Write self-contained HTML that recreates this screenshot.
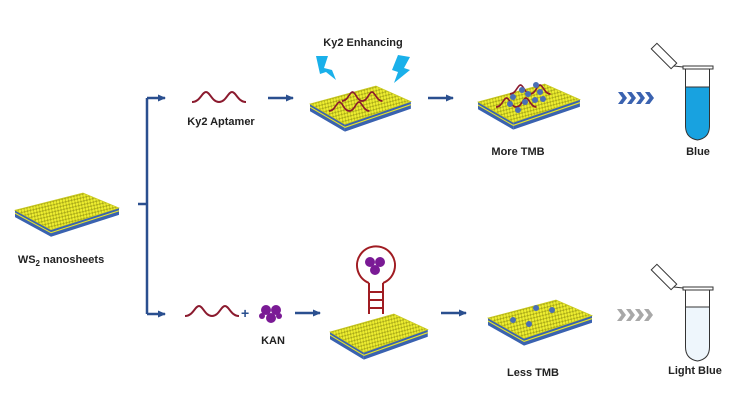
<!DOCTYPE html>
<html><head><meta charset="utf-8"><style>
body{margin:0;background:#fff}
svg{display:block}
text{font-family:"Liberation Sans",sans-serif;font-weight:bold;font-size:11px;fill:#222}
</style></head><body>
<svg width="734" height="412" viewBox="0 0 734 412" xmlns="http://www.w3.org/2000/svg">
<defs>
<pattern id="hatch" width="3" height="3" patternUnits="userSpaceOnUse" patternTransform="rotate(-12)">
<rect width="3" height="3" fill="#a8a818"/><circle cx="1.5" cy="1.5" r="1.3" fill="#eded30"/>
</pattern>
<g id="sheet">
<polygon points="0,15 36,32 36,38 0,21" fill="#3a62b0"/>
<polygon points="36,32 104,13 104,19 36,38" fill="#3a62b0"/>
<polygon points="0,17 36,34 104,15 104,16 36,35 0,18" fill="#e6e62a"/>
<polygon points="0,15 68,0 104,13 36,32" fill="url(#hatch)" stroke="#c9c920" stroke-width="0.6"/>
</g>
<g id="wave"><path d="M0,10 C8,10 10,0 14,0 C18,0 20,10 27,10 C34,10 36,0 40,0 C44,0 46,10 54,10" fill="none" stroke="#8b1a2e" stroke-width="2"/></g>
<g id="chev"><path d="M0,0 L4.5,0 L9,6 L4.5,12 L0,12 L4.5,6Z"/></g>
<marker id="ah" markerUnits="userSpaceOnUse" markerWidth="8" markerHeight="8" refX="7" refY="4" orient="auto"><path d="M0,0.5 L8,4 L0,7.5Z" fill="#2a4f8f"/></marker>
</defs>

<use href="#sheet" transform="translate(15,193) scale(1,1.15)"/>
<use href="#sheet" transform="translate(310,86) scale(0.97,1.2)"/>
<use href="#sheet" transform="translate(478,84) scale(0.98,1.2)"/>
<use href="#sheet" transform="translate(330,314) scale(0.94,1.2)"/>
<use href="#sheet" transform="translate(488,300) scale(1.0,1.2)"/>

<g stroke="#2a4f8f" stroke-width="2.5" fill="none">
<path d="M138,204 H147 M147,98 V314"/>
<path d="M147,98 H165" marker-end="url(#ah)"/>
<path d="M147,314 H165" marker-end="url(#ah)"/>
<path d="M268,98 H293" marker-end="url(#ah)"/>
<path d="M428,98 H453" marker-end="url(#ah)"/>
<path d="M295,313 H320" marker-end="url(#ah)"/>
<path d="M441,313 H466" marker-end="url(#ah)"/>
</g>

<use href="#wave" transform="translate(192,92)"/>
<use href="#wave" transform="translate(185,306)"/>
<use href="#wave" transform="translate(342,92) scale(0.75,0.9)"/>
<use href="#wave" transform="translate(329,102) scale(0.75,0.9)"/>
<use href="#wave" transform="translate(510,85) scale(0.75,0.9)"/>
<use href="#wave" transform="translate(496,98) scale(0.75,0.9)"/>
<g fill="#4a6fb5">
<circle cx="510" cy="104" r="3"/><circle cx="518" cy="110" r="3"/><circle cx="525" cy="102" r="3"/><circle cx="528" cy="94" r="3"/><circle cx="535" cy="100" r="3"/><circle cx="540" cy="92" r="3"/><circle cx="536" cy="85" r="3"/><circle cx="522" cy="90" r="3"/><circle cx="543" cy="99" r="3"/><circle cx="513" cy="97" r="3"/>
<circle cx="513" cy="320" r="3"/><circle cx="529" cy="324" r="3"/><circle cx="536" cy="308" r="3"/><circle cx="552" cy="310" r="3"/>
</g>
<g fill="#1ab0ea">
<path d="M316,56 L328,56 L324,68 L332,70 L336,80 L326,72 L320,74Z"/>
<path d="M398,55 L410,57 L404,68 L410,70 L394,83 L398,72 L392,70Z"/>
</g>
<text x="241" y="318" style="font-size:14px;fill:#2a4f8f">+</text>
<g fill="#7a1a95">
<circle cx="266" cy="310" r="5"/><circle cx="276" cy="310" r="5"/><circle cx="271" cy="318" r="5"/><circle cx="262" cy="316" r="3"/><circle cx="279" cy="316" r="3"/>
<circle cx="370" cy="262" r="5"/><circle cx="380" cy="262" r="5"/><circle cx="375" cy="270" r="5"/>
</g>
<g stroke="#a01c22" stroke-width="2" fill="none">
<path d="M369,283 A19,19 0 1 1 383,283"/>
<path d="M369,283 V314 M383,283 V314 M369,292 H383 M369,300 H383 M369,308 H383"/>
</g>
<g fill="#3a62b0"><use href="#chev" x="618" y="92"/><use href="#chev" x="627" y="92"/><use href="#chev" x="636" y="92"/><use href="#chev" x="645" y="92"/></g>
<g fill="#a8a8a8"><use href="#chev" x="617" y="309"/><use href="#chev" x="626" y="309"/><use href="#chev" x="635" y="309"/><use href="#chev" x="644" y="309"/></g>
<g>
<path d="M685.5,87 V126 Q685.5,138 697.5,140 Q709.5,138 709.5,126 V87Z" fill="#18a2e0"/>
<path d="M685.5,69 V126 Q685.5,138 697.5,140 Q709.5,138 709.5,126 V69" fill="none" stroke="#333" stroke-width="1"/>
<line x1="685.5" y1="87" x2="709.5" y2="87" stroke="#333"/>
<rect x="683" y="66" width="30" height="3" fill="#fff" stroke="#333" stroke-width="1"/>
<rect x="650" y="52" width="28" height="8" fill="#fff" stroke="#333" stroke-width="1" transform="rotate(45 664 56)"/>
<line x1="674" y1="66" x2="683" y2="67" stroke="#333"/>
</g>
<g transform="translate(0,221)">
<path d="M685.5,86 V126 Q685.5,138 697.5,140 Q709.5,138 709.5,126 V86Z" fill="#eef6fc"/>
<path d="M685.5,69 V126 Q685.5,138 697.5,140 Q709.5,138 709.5,126 V69" fill="none" stroke="#333" stroke-width="1"/>
<line x1="685.5" y1="86" x2="709.5" y2="86" stroke="#333"/>
<rect x="683" y="66" width="30" height="3" fill="#fff" stroke="#333" stroke-width="1"/>
<rect x="650" y="52" width="28" height="8" fill="#fff" stroke="#333" stroke-width="1" transform="rotate(45 664 56)"/>
<line x1="674" y1="66" x2="683" y2="67" stroke="#333"/>
</g>
<text x="363" y="46" text-anchor="middle">Ky2 Enhancing</text>
<text x="221" y="125" text-anchor="middle">Ky2 Aptamer</text>
<text x="61" y="263" text-anchor="middle">WS<tspan dy="3" style="font-size:8px">2</tspan><tspan dy="-3"> nanosheets</tspan></text>
<text x="518" y="155" text-anchor="middle">More TMB</text>
<text x="698" y="155" text-anchor="middle">Blue</text>
<text x="273" y="344" text-anchor="middle">KAN</text>
<text x="533" y="376" text-anchor="middle">Less TMB</text>
<text x="695" y="374" text-anchor="middle">Light Blue</text>
</svg>
</body></html>
